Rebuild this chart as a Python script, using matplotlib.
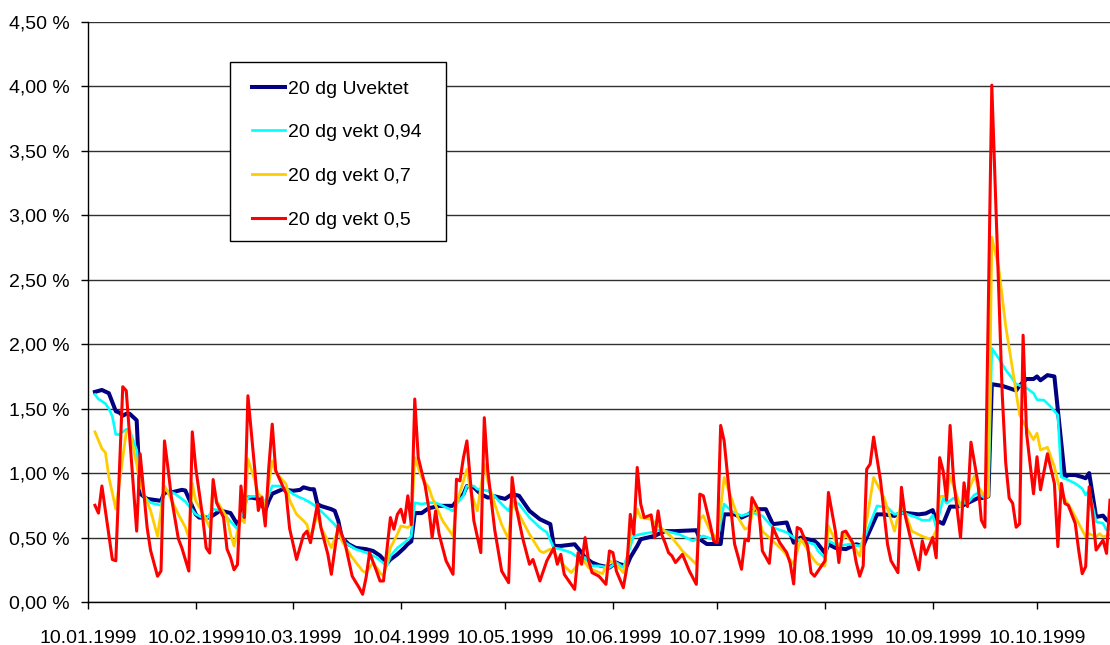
import matplotlib
matplotlib.use('Agg')
import matplotlib.pyplot as plt
import matplotlib.dates as mdates
from matplotlib.ticker import FuncFormatter, MultipleLocator
from matplotlib.patches import Rectangle
import pandas as pd

# ---------------- data (days after 10.01.1999, value in %) ----------------
start_date = "1999-01-10"
end_date = "1999-10-31"

uvektet_days = [2, 4, 6, 8, 9, 10, 11, 12, 14, 15, 17, 21, 22, 24, 27, 28, 31, 32, 35, 37, 38, 41, 43, 44, 45,
                47, 49, 51, 52, 53, 56, 57, 59, 61, 62, 64, 65, 66, 67, 70, 71, 72, 73, 75, 77, 80, 82, 84, 86, 87,
                89, 91, 92, 93, 94, 96, 98, 99, 101, 105, 106, 108, 109, 111, 113, 115, 117, 120, 122, 124, 126,
                127, 130, 133, 134, 136, 140, 142, 143, 145, 147, 150, 152, 153, 155, 156, 158, 159, 161, 163, 164,
                166, 169, 175, 176, 178, 182, 183, 186, 188, 190, 192, 195, 197, 201, 203, 205, 209, 210, 212, 213,
                215, 218, 221, 223, 224, 227, 229, 232, 234, 239, 241, 243, 244, 246, 248, 250, 252, 254, 256, 257,
                259, 260, 263, 266, 267, 268, 270, 272, 273, 274, 276, 278, 281, 282, 284, 286, 287, 288, 290, 292,
                293, 294]
uvektet = [1.63, 1.645, 1.62, 1.48, 1.47, 1.445, 1.46, 1.46, 1.41, 0.84, 0.80, 0.785, 0.85, 0.85, 0.87, 0.865,
           0.68, 0.655, 0.655, 0.69, 0.71, 0.69, 0.60, 0.655, 0.81, 0.81, 0.80, 0.71, 0.785, 0.84, 0.875, 0.87,
           0.863, 0.87, 0.89, 0.875, 0.875, 0.76, 0.745, 0.72, 0.707, 0.63, 0.50, 0.448, 0.42, 0.41, 0.396, 0.36,
           0.30, 0.33, 0.37, 0.42, 0.45, 0.47, 0.69, 0.69, 0.728, 0.733, 0.746, 0.746, 0.785, 0.837, 0.90, 0.889,
           0.837, 0.81, 0.82, 0.80, 0.837, 0.824, 0.746, 0.707, 0.642, 0.604, 0.435, 0.435, 0.448, 0.383, 0.345,
           0.306, 0.285, 0.267, 0.306, 0.293, 0.28, 0.345, 0.435, 0.487, 0.50, 0.513, 0.526, 0.55, 0.55, 0.557,
           0.487, 0.45, 0.45, 0.68, 0.68, 0.655, 0.68, 0.72, 0.72, 0.604, 0.617, 0.46, 0.50, 0.474, 0.45, 0.38,
           0.448, 0.42, 0.41, 0.448, 0.435, 0.50, 0.68, 0.68, 0.668, 0.694, 0.68, 0.687, 0.713, 0.634, 0.607, 0.74,
           0.74, 0.753, 0.78, 0.806, 0.806, 0.82, 1.69, 1.677, 1.65, 1.64, 1.68, 1.73, 1.73, 1.75, 1.72, 1.76,
           1.75, 0.97, 0.985, 0.985, 0.97, 0.96, 1.0, 0.66, 0.67, 0.636, 0.62]

vekt094_days = [2, 3, 5, 6, 7, 8, 9, 11, 12, 14, 15, 16, 18, 21, 22, 25, 28, 31, 34, 36, 38, 40, 43, 44, 46, 47,
                50, 51, 53, 55, 57, 59, 61, 62, 64, 66, 68, 71, 73, 74, 77, 80, 83, 86, 87, 89, 91, 93, 94, 96, 98,
                100, 102, 105, 106, 108, 109, 111, 112, 115, 117, 119, 121, 122, 124, 127, 130, 132, 134, 136, 139,
                141, 143, 145, 147, 150, 152, 154, 155, 157, 159, 162, 164, 166, 170, 174, 176, 177, 181, 183, 185,
                188, 191, 194, 197, 201, 203, 205, 209, 210, 212, 213, 216, 219, 222, 223, 227, 230, 232, 234, 238,
                240, 242, 243, 244, 246, 247, 249, 251, 253, 255, 256, 258, 259, 260, 262, 264, 266, 267, 268, 270,
                272, 273, 275, 277, 279, 280, 282, 284, 286, 287, 288, 290, 292, 293, 294]
vekt094 = [1.61, 1.575, 1.54, 1.50, 1.44, 1.30, 1.30, 1.34, 1.33, 1.18, 0.94, 0.82, 0.77, 0.75, 0.875, 0.84,
           0.78, 0.68, 0.64, 0.72, 0.71, 0.655, 0.565, 0.655, 0.81, 0.82, 0.82, 0.76, 0.90, 0.90, 0.88, 0.837,
           0.81, 0.80, 0.77, 0.733, 0.68, 0.60, 0.526, 0.46, 0.41, 0.383, 0.345, 0.28, 0.357, 0.42, 0.46, 0.51,
           0.77, 0.76, 0.77, 0.77, 0.746, 0.707, 0.76, 0.824, 0.90, 0.90, 0.875, 0.863, 0.82, 0.76, 0.707, 0.785,
           0.76, 0.655, 0.578, 0.54, 0.42, 0.41, 0.383, 0.345, 0.345, 0.28, 0.28, 0.267, 0.306, 0.267, 0.345,
           0.513, 0.526, 0.54, 0.557, 0.55, 0.526, 0.474, 0.50, 0.513, 0.474, 0.76, 0.707, 0.668, 0.694, 0.668,
           0.578, 0.54, 0.50, 0.474, 0.448, 0.396, 0.345, 0.474, 0.435, 0.448, 0.435, 0.474, 0.746, 0.733, 0.68,
           0.694, 0.66, 0.634, 0.634, 0.673, 0.58, 0.806, 0.766, 0.806, 0.766, 0.766, 0.832, 0.845, 0.806, 0.832,
           1.968, 1.89, 1.80, 1.73, 1.69, 1.68, 1.66, 1.62, 1.57, 1.566, 1.514, 1.45, 0.97, 0.946, 0.92, 0.88,
           0.83, 0.868, 0.623, 0.61, 0.558, 0.56]

vekt07_days = [2, 4, 5, 6, 8, 11, 12, 14, 15, 18, 20, 22, 23, 26, 28, 29, 30, 31, 33, 35, 36, 37, 40, 41, 42, 44,
               45, 46, 48, 49, 50, 51, 53, 54, 57, 58, 60, 62, 63, 64, 66, 67, 70, 72, 73, 76, 79, 80, 82, 84, 85,
               87, 89, 90, 92, 93, 94, 96, 98, 99, 102, 105, 106, 108, 109, 110, 112, 114, 115, 117, 119, 121, 122,
               124, 127, 130, 131, 133, 135, 137, 139, 141, 142, 144, 146, 148, 150, 152, 154, 155, 156, 158, 159,
               162, 164, 166, 168, 171, 175, 176, 177, 179, 181, 183, 185, 187, 189, 190, 192, 194, 197, 200, 203,
               205, 206, 209, 210, 212, 213, 215, 216, 218, 220, 222, 224, 226, 229, 232, 234, 237, 240, 242, 243,
               244, 245, 247, 248, 250, 251, 253, 255, 256, 258, 259, 260, 262, 264, 266, 268, 270, 272, 273, 274,
               276, 278, 280, 281, 283, 285, 287, 288, 290, 291, 292, 294]
vekt07 = [1.32, 1.19, 1.16, 0.97, 0.72, 1.32, 1.33, 1.07, 0.91, 0.71, 0.51, 0.90, 0.85, 0.68, 0.58, 0.50, 0.92,
          0.785, 0.69, 0.58, 0.915, 0.785, 0.655, 0.525, 0.435, 0.655, 0.615, 1.11, 0.94, 0.835, 0.82, 0.73,
          1.095, 1.005, 0.915, 0.79, 0.68, 0.63, 0.60, 0.50, 0.68, 0.58, 0.42, 0.565, 0.474, 0.345, 0.24, 0.228,
          0.306, 0.228, 0.20, 0.42, 0.526, 0.59, 0.578, 0.60, 1.12, 0.966, 0.889, 0.81, 0.63, 0.513, 0.76, 0.94,
          1.03, 0.863, 0.707, 1.07, 0.94, 0.76, 0.60, 0.487, 0.77, 0.68, 0.526, 0.396, 0.383, 0.41, 0.345, 0.28,
          0.228, 0.293, 0.345, 0.267, 0.24, 0.22, 0.32, 0.293, 0.228, 0.32, 0.50, 0.72, 0.655, 0.642, 0.59, 0.55,
          0.50, 0.396, 0.293, 0.642, 0.67, 0.55, 0.49, 0.966, 0.81, 0.655, 0.565, 0.578, 0.76, 0.55, 0.474, 0.396,
          0.293, 0.487, 0.448, 0.32, 0.293, 0.28, 0.59, 0.474, 0.435, 0.526, 0.448, 0.357, 0.63, 0.966, 0.81,
          0.55, 0.77, 0.55, 0.51, 0.49, 0.50, 0.555, 0.82, 0.82, 0.977, 0.819, 0.74, 0.845, 0.977, 0.898, 0.819,
          0.819, 2.83, 2.59, 2.14, 1.80, 1.45, 1.35, 1.26, 1.31, 1.18, 1.20, 1.05, 0.82, 0.80, 0.713, 0.61, 0.506,
          0.53, 0.506, 0.53, 0.506, 0.52]

vekt05_days = [2, 3, 4, 7, 8, 10, 11, 14, 15, 17, 18, 20, 21, 22, 23, 24, 26, 27, 29, 30, 31, 33, 34, 35, 36, 37,
               39, 40, 41, 42, 43, 44, 45, 46, 48, 49, 50, 51, 52, 53, 54, 57, 58, 60, 62, 63, 64, 66, 67, 69, 70,
               72, 74, 76, 78, 79, 80, 81, 83, 84, 85, 87, 88, 89, 90, 91, 92, 93, 94, 95, 97, 98, 99, 100, 101,
               103, 105, 106, 107, 108, 109, 110, 111, 113, 114, 115, 117, 119, 121, 122, 123, 125, 127, 128, 130,
               132, 134, 135, 136, 137, 140, 141, 142, 143, 144, 145, 147, 149, 150, 151, 152, 154, 155, 156, 157,
               158, 159, 160, 162, 163, 164, 165, 166, 167, 168, 169, 171, 173, 175, 176, 177, 179, 180, 181, 182,
               183, 185, 186, 188, 189, 190, 191, 193, 194, 196, 197, 199, 201, 202, 203, 204, 205, 207, 208, 209,
               210, 212, 213, 215, 216, 217, 218, 220, 221, 222, 223, 224, 225, 226, 228, 230, 231, 233, 234, 235,
               237, 239, 240, 241, 243, 244, 245, 246, 247, 248, 249, 251, 252, 253, 254, 256, 257, 258, 260, 263,
               264, 265, 266, 267, 268, 269, 270, 272, 273, 274, 276, 278, 279, 280, 281, 282, 284, 285, 286, 287,
               288, 289, 290, 292, 293, 294]
vekt05 = [0.75, 0.69, 0.90, 0.33, 0.32, 1.67, 1.64, 0.55, 1.15, 0.58, 0.40, 0.20, 0.24, 1.25, 1.04, 0.81, 0.49,
          0.42, 0.24, 1.32, 1.04, 0.655, 0.42, 0.38, 0.95, 0.77, 0.655, 0.41, 0.345, 0.25, 0.29, 0.90, 0.655, 1.60,
          1.02, 0.71, 0.81, 0.59, 1.04, 1.38, 1.02, 0.84, 0.57, 0.33, 0.52, 0.55, 0.46, 0.76, 0.578, 0.37, 0.215,
          0.60, 0.448, 0.20, 0.111, 0.06, 0.19, 0.383, 0.24, 0.163, 0.163, 0.655, 0.565, 0.68, 0.72, 0.617, 0.824,
          0.60, 1.575, 1.12, 0.90, 0.733, 0.50, 0.707, 0.526, 0.32, 0.215, 0.953, 0.94, 1.12, 1.25, 0.94, 0.63,
          0.383, 1.43, 1.02, 0.56, 0.24, 0.15, 0.966, 0.76, 0.50, 0.293, 0.33, 0.163, 0.32, 0.42, 0.293, 0.37,
          0.215, 0.098, 0.383, 0.293, 0.50, 0.32, 0.228, 0.20, 0.137, 0.396, 0.383, 0.24, 0.111, 0.267, 0.68,
          0.526, 1.044, 0.76, 0.655, 0.676, 0.50, 0.707, 0.526, 0.46, 0.383, 0.357, 0.306, 0.37, 0.24, 0.137,
          0.837, 0.824, 0.60, 0.474, 0.46, 1.37, 1.25, 0.707, 0.45, 0.254, 0.487, 0.474, 0.81, 0.707, 0.396, 0.30,
          0.578, 0.46, 0.383, 0.30, 0.14, 0.578, 0.565, 0.435, 0.228, 0.20, 0.24, 0.32, 0.85, 0.55, 0.306, 0.54,
          0.55, 0.46, 0.306, 0.20, 0.28, 1.03, 1.07, 1.28, 0.94, 0.448, 0.32, 0.228, 0.89, 0.68, 0.45, 0.25, 0.475,
          0.37, 0.50, 0.343, 1.12, 1.017, 0.79, 1.37, 0.95, 0.50, 0.925, 0.74, 1.24, 0.925, 0.634, 0.58, 4.01,
          1.61, 1.08, 0.806, 0.766, 0.58, 0.607, 2.07, 1.31, 0.84, 1.127, 0.87, 1.15, 0.92, 0.43, 0.92, 0.765,
          0.75, 0.61, 0.40, 0.22, 0.274, 0.894, 0.687, 0.403, 0.48, 0.377, 0.79]

series_labels = ["20 dg Uvektet", "20 dg vekt 0,94", "20 dg vekt 0,7", "20 dg vekt 0,5"]
tick_dates = ["1999-01-10", "1999-02-10", "1999-03-10", "1999-04-10", "1999-05-10",
              "1999-06-10", "1999-07-10", "1999-08-10", "1999-09-10", "1999-10-10"]

# ---------------- plotting ----------------
plt.rcParams['font.family'] = ['Liberation Sans', 'DejaVu Sans']

t0 = pd.Timestamp(start_date)


def to_dates(days):
    return t0 + pd.to_timedelta(days, unit="D")


W, H = 1110, 645
fig = plt.figure(figsize=(W / 100, H / 100), dpi=100)
ax = fig.add_axes([88 / W, 1 - 602 / H, 1 - 88 / W, (602 - 22) / H])

styles = [
    (uvektet_days, uvektet, "#000080", 2.9),
    (vekt094_days, vekt094, "#00FFFF", 1.9),
    (vekt07_days, vekt07, "#FFCC00", 2.0),
    (vekt05_days, vekt05, "#FF0000", 2.2),
]
for (d, v, c, lw), lab in zip(styles, series_labels):
    ax.plot(to_dates(d), v, color=c, lw=lw, label=lab, solid_joinstyle='round', zorder=3)

ax.set_ylim(0, 4.5)
ax.set_xlim(pd.Timestamp(start_date), pd.Timestamp(end_date))
ax.yaxis.set_major_locator(MultipleLocator(0.5))
ax.yaxis.set_major_formatter(FuncFormatter(lambda v, p: f"{v:.2f}".replace('.', ',') + " %"))
ax.set_xticks([pd.Timestamp(s) for s in tick_dates])
ax.xaxis.set_major_formatter(mdates.DateFormatter("%d.%m.%Y"))

ax.grid(axis='y', color='#303030', lw=1.0, zorder=1)
for s in ['top', 'right']:
    ax.spines[s].set_visible(False)
for s in ['left', 'bottom']:
    ax.spines[s].set_color('black')
    ax.spines[s].set_linewidth(1.0)
ax.tick_params(axis='both', direction='out', length=5, width=1, color='black', labelsize=14)
ax.tick_params(axis='x', pad=15)
ax.tick_params(axis='y', pad=8)

# legend box (frame drawn separately to match the reference geometry)
fig.patches.append(Rectangle((230 / W, 1 - 241 / H), (446 - 230) / W, (241 - 62) / H,
                             transform=fig.transFigure, facecolor='white', edgecolor='black',
                             lw=1.0, zorder=4))
leg = fig.legend(loc='upper left', bbox_to_anchor=(252 / W, 1 - 80 / H), fontsize=14,
                 frameon=False, handlelength=1.7, handletextpad=0.15, labelspacing=1.34,
                 borderpad=0, borderaxespad=0)
leg.set_zorder(5)

fig.savefig("out.png", dpi=100)
